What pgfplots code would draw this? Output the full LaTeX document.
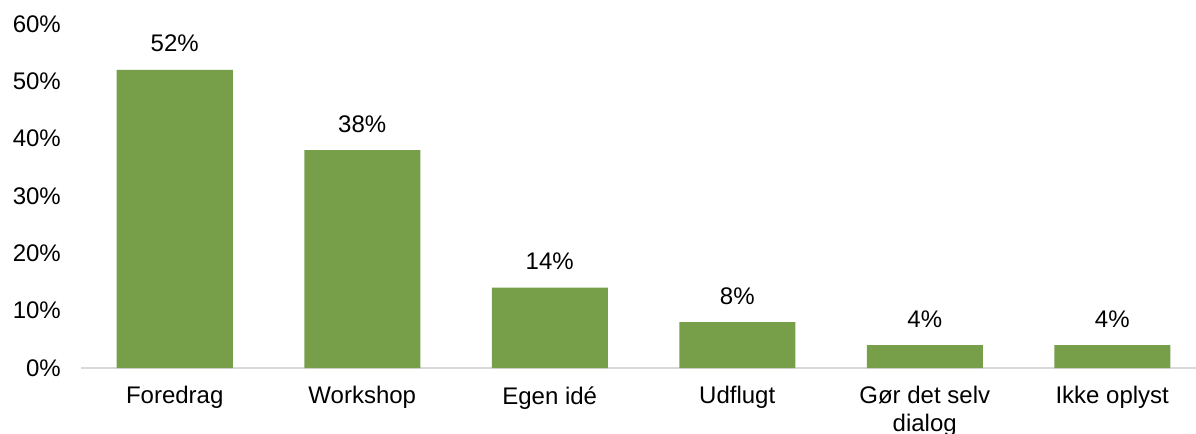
\documentclass[border=0pt]{standalone}
\usepackage{fontspec}
\setmainfont{Liberation Sans}
\usepackage{pgfplots}
\pgfplotsset{compat=1.18}
\definecolor{bargreen}{RGB}{119,159,74}
\definecolor{axgray}{RGB}{217,217,217}
\begin{document}
\fontsize{24bp}{28bp}\selectfont
\begin{tikzpicture}
\begin{axis}[
  at={(81bp,66bp)}, anchor=south west,
  scale only axis, width=1125bp, height=344bp,
  xmin=-0.5, xmax=5.5, ymin=0, ymax=60,
  axis x line*=bottom, axis y line*=left,
  y axis line style={draw=none},
  x axis line style={draw=axgray, line width=1.5bp, -},
  ytick={0,10,...,60},
  ytick style={draw=none},
  xtick={0,1,2,3,4,5},
  xtick style={draw=none},
  xticklabels={Foredrag,Workshop,Egen idé,Udflugt,{Gør det selv\\dialog},Ikke oplyst},
  xticklabel style={align=center, font=\fontsize{24bp}{28bp}\selectfont, yshift=-6bp},
  yticklabel style={font=\fontsize{24bp}{28bp}\selectfont, xshift=-12bp},
  /pgf/number format/assume math mode=true,
  yticklabel={\pgfmathprintnumber{\tick}\%},
  extra x ticks={-0.5,0.5,1.5,2.5,3.5,4.5},
  extra x tick labels={},
  extra x tick style={tick style={draw=axgray, line width=1.5bp}, major tick length=8bp, tick align=outside},
  ybar, bar width=116bp,
  nodes near coords={\pgfmathprintnumber{\pgfplotspointmeta}\%},
  every node near coord/.append style={anchor=base, yshift=18bp, font=\fontsize{24bp}{28bp}\selectfont},
  clip=false,
]
\addplot[fill=bargreen, draw=none] coordinates {(0,52) (1,38) (2,14) (3,8) (4,4) (5,4)};
\end{axis}
\pgfresetboundingbox
\useasboundingbox (0,0) rectangle (1196bp,434bp);
\end{tikzpicture}
\end{document}
